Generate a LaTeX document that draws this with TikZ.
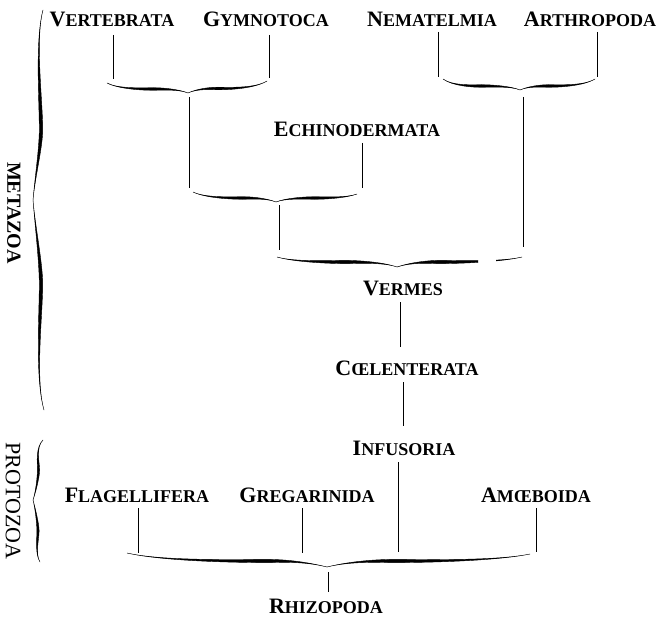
\documentclass[tikz,border=0pt]{standalone}
\usepackage{fontspec}
\setmainfont{Liberation Serif}
\newif\ifbvert
\newcommand\bpt[3]{\ifbvert\coordinate (#1) at (#3,#2);\else\coordinate (#1) at (#2,#3);\fi}
% half of a tapered brace:
% along-end, across-end, along-tip, across-tip, across-level, thick-fraction, width, across-level of thick part
\newcommand\bhalf[8]{%
  \pgfmathsetmacro\bda{#3-(#1)}%
  \pgfmathsetmacro\bam{#1+#6*\bda}%
  \pgfmathsetmacro\bcu{#8-#7/2}%
  \pgfmathsetmacro\bcl{#8+#7/2}%
  \pgfmathsetmacro\baea{#1+0.25*#6*\bda}%
  \pgfmathsetmacro\bama{\bam-0.25*#6*\bda}%
  \pgfmathsetmacro\bamb{\bam+0.25*(1-#6)*\bda}%
  \pgfmathsetmacro\bata{#3-0.12*\bda}%
  \bpt{bE}{#1}{#2}\bpt{bT}{#3}{#4}%
  \bpt{bc1}{\baea}{#5}\bpt{bc2}{\bama}{\bcu}\bpt{bMu}{\bam}{\bcu}%
  \bpt{bc3}{\bamb}{\bcu}\bpt{bc4}{\bata}{#5}%
  \bpt{bc5}{\bama}{\bcl}\bpt{bMl}{\bam}{\bcl}\bpt{bc6}{\bamb}{\bcl}%
  \filldraw[bracefill] (bE) .. controls (bc1) and (bc2) .. (bMu) .. controls (bc3) and (bc4) .. (bT)
     .. controls (bc4) and (bc6) .. (bMl) .. controls (bc5) and (bc1) .. cycle;
}
\newcommand\scl[2]{{\fontsize{22}{22}\selectfont #1}{\fontsize{18}{18}\selectfont #2}}
\tikzset{
  bracefill/.style={fill=black,draw=black,line width=0.4pt},
  lbl/.style={anchor=base,inner sep=0pt,font=\bfseries},
  conn/.style={draw=black,line width=1pt},
  side/.style={inner sep=0pt,rotate=-90,anchor=center}
}
\begin{document}
\begin{tikzpicture}[x=1pt,y=-1pt]
\useasboundingbox[fill=white] (0,0) rectangle (665,618);
% labels
\node[lbl] (vert) at (112,27) {\scl{V}{ERTEBRATA}};
\node[lbl] (gymn) at (266,27) {\scl{G}{YMNOTOCA}};
\node[lbl] (nema) at (432,27) {\scl{N}{EMATELMIA}};
\node[lbl] (arth) at (590,27) {\scl{A}{RTHROPODA}};
\node[lbl] (echi) at (357,136) {\scl{E}{CHINODERMATA}};
\node[lbl] (verm) at (403,295) {\scl{V}{ERMES}};
\node[lbl] (coel) at (407,375) {\scl{C}{ŒLENTERATA}};
\node[lbl] (infu) at (404,455) {\scl{I}{NFUSORIA}};
\node[lbl] (flag) at (137,502) {\scl{F}{LAGELLIFERA}};
\node[lbl] (greg) at (307,502) {\scl{G}{REGARINIDA}};
\node[lbl] (amoe) at (536,502) {\scl{A}{MŒBOIDA}};
\node[lbl] (rhiz) at (326,613) {\scl{R}{HIZOPODA}};
\node[side,font=\bfseries\fontsize{20}{20}\selectfont] (meta) at (14,213) {METAZOA};
\node[side,font=\fontsize{22}{22}\selectfont] (prot) at (13,501) {PROTOZOA};
% connector end points
\coordinate (vert-a) at (113,35); \coordinate (vert-b) at (113,79);
\coordinate (gymn-a) at (269,35); \coordinate (gymn-b) at (269,78);
\coordinate (nema-a) at (438,32); \coordinate (nema-b) at (438,77);
\coordinate (arth-a) at (597,32); \coordinate (arth-b) at (597,77);
\coordinate (b1-a) at (189,97);  \coordinate (b1-b) at (189,188);
\coordinate (b2-a) at (523,97);  \coordinate (b2-b) at (523,247);
\coordinate (echi-a) at (362,143); \coordinate (echi-b) at (362,188);
\coordinate (b3-a) at (279,205); \coordinate (b3-b) at (279,250);
\coordinate (verm-a) at (400,302); \coordinate (coel-t) at (400,347);
\coordinate (coel-a) at (403,382); \coordinate (infu-t) at (403,426);
\coordinate (infu-a) at (398,462); \coordinate (infu-b) at (398,552);
\coordinate (flag-a) at (138,508); \coordinate (flag-b) at (138,553);
\coordinate (greg-a) at (302,508); \coordinate (greg-b) at (302,553);
\coordinate (amoe-a) at (536,508); \coordinate (amoe-b) at (536,552);
\coordinate (b5-a) at (328,572); \coordinate (rhiz-t) at (328,592);
% connectors
\draw[conn] (vert-a) -- (vert-b);
\draw[conn] (gymn-a) -- (gymn-b);
\draw[conn] (nema-a) -- (nema-b);
\draw[conn] (arth-a) -- (arth-b);
\draw[conn] (b1-a) -- (b1-b);
\draw[conn] (b2-a) -- (b2-b);
\draw[conn] (echi-a) -- (echi-b);
\draw[conn] (b3-a) -- (b3-b);
\draw[conn] (verm-a) -- (coel-t);
\draw[conn] (coel-a) -- (infu-t);
\draw[conn] (infu-a) -- (infu-b);
\draw[conn] (flag-a) -- (flag-b);
\draw[conn] (greg-a) -- (greg-b);
\draw[conn] (amoe-a) -- (amoe-b);
\draw[conn] (b5-a) -- (rhiz-t);
% horizontal braces
\bvertfalse
\bhalf{107}{83}{188}{93}{89}{0.57}{2.6}{89}
\bhalf{267}{81}{188}{93}{88.5}{0.62}{2.6}{88.5}
\bhalf{443}{79}{520}{90}{86}{0.5}{2.6}{86}
\bhalf{595}{79}{520}{90}{86}{0.62}{2.6}{86}
\bhalf{193}{192}{276}{202}{198}{0.6}{2.6}{198}
\bhalf{357}{194}{276}{202}{198}{0.52}{2.6}{198}
\bhalf{277}{257}{397}{267}{262}{0.57}{3.2}{262}
\begin{scope}
\clip (0,0) rectangle (478,618) (496,0) rectangle (665,618);
\bhalf{522}{257}{397}{267}{262}{0.66}{3.2}{262}
\end{scope}
\bhalf{127}{553}{327}{567}{561}{0.7}{3.2}{561}
\bhalf{530}{554}{327}{567}{561}{0.67}{3.2}{561}
% vertical braces
\bverttrue
\bhalf{10}{43}{200}{33}{35}{0.63}{3.4}{41}
\bhalf{410}{44}{200}{33}{35}{0.6}{3.4}{41}
\bhalf{440}{43}{500}{33}{35.5}{0.5}{2.2}{38.5}
\bhalf{562}{40}{500}{33}{35}{0.5}{2.2}{38}
\end{tikzpicture}
\end{document}
